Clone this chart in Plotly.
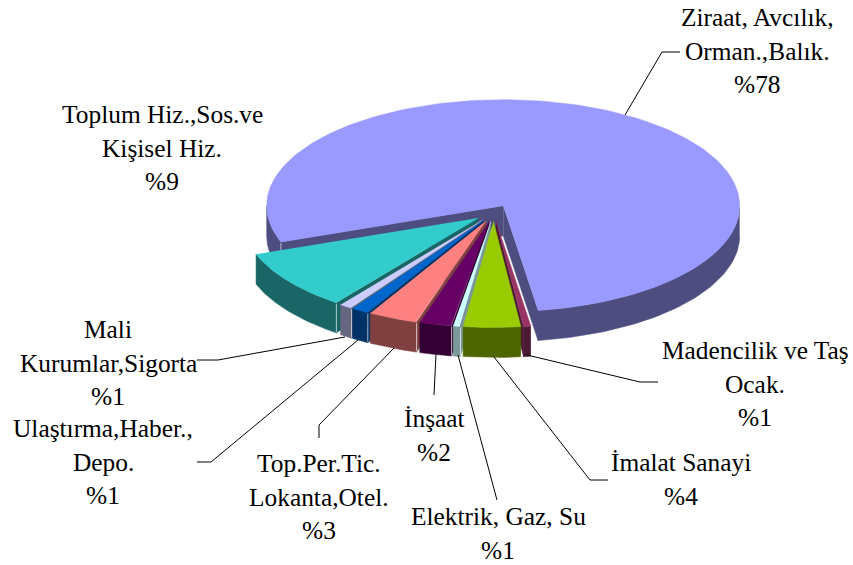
import numpy as np
import plotly.graph_objects as go

# ---- data ----
categories = ["Ziraat, Avcılık,<br>Orman.,Balık.", "Madencilik ve Taş<br>Ocak.", "İmalat Sanayi",
              "Elektrik, Gaz, Su", "İnşaat", "Top.Per.Tic.<br>Lokanta,Otel.",
              "Ulaştırma,Haber.,<br>Depo.", "Mali<br>Kurumlar,Sigorta", "Toplum Hiz.,Sos.ve<br>Kişisel Hiz."]
values = [78.2, 0.5, 3.9, 0.5, 2.2, 3.4, 1.2, 0.9, 9.2]
percent_labels = ["%78", "%1", "%4", "%1", "%2", "%3", "%1", "%1", "%9"]

# ---- styles / layout ----
top_colors = ["#9999FF", "#993366", "#99CC00", "#CCFFFF", "#660066", "#FF8080", "#0066CC", "#CCCCFF", "#33CCCC"]
side_colors = ["#4D4D80", "#4D1A33", "#4D6600", "#7A9999", "#330033", "#804040", "#003366", "#666680", "#1A6666"]
label_pos = [(757, 17), (755, 350), (681, 462), (498, 516), (434, 418), (319, 463), (103, 428), (108, 329), (162, 114)]
leaders = [
    [(625, 115), (662, 52), (680, 52)],
    [(527, 355), (640, 382), (658, 382)],
    [(494, 357), (590, 480), (608, 480)],
    [(458, 355), (497, 500)],
    [(436, 354), (434, 395)],
    [(394, 348), (319, 425), (319, 438)],
    [(358, 340), (211, 462), (197, 462)],
    [(345, 337), (218, 360), (197, 360)],
]
CX, CY, RX, RY, DEPTH, EXPL = 493.5, 213.0, 236.5, 106.0, 30.0, 0.08
START_DEG = -70.0   # ellipse angle, measured from the bottom, where the first slice begins
LINE_H = 33.5
FONT = dict(family="Liberation Serif", size=25.4, color="black")

fig = go.Figure()


def poly(x, y, color):
    fig.add_trace(go.Scatter(x=list(x), y=list(y), mode="lines", fill="toself", fillcolor=color,
                             line=dict(color=color, width=0.5), hoverinfo="skip", showlegend=False))


def ex(cx, t):
    return cx + RX * np.sin(t)


def ey(cy, t):
    return cy + RY * np.cos(t)


# slice angles run clockwise on screen, i.e. decreasing from the bottom of the ellipse
spans = np.radians(np.array(values) / sum(values) * 360.0)
a = np.radians(START_DEG)
slices = []
for i, s in enumerate(spans):
    slices.append((i, a, a - s))
    a -= s

for i, ta, tb in sorted(slices, key=lambda r: np.cos((r[1] + r[2]) / 2)):
    mid = (ta + tb) / 2
    ox = CX + EXPL * RX * np.sin(mid)
    oy = CY + EXPL * RY * np.cos(mid)
    th = np.linspace(ta, tb, 200)
    # radial walls
    if np.sin(ta) < 0:
        poly([ox, ex(ox, ta), ex(ox, ta), ox], [oy, ey(oy, ta), ey(oy, ta) + DEPTH, oy + DEPTH], side_colors[i])
    if np.sin(tb) > 0:
        poly([ox, ex(ox, tb), ex(ox, tb), ox], [oy, ey(oy, tb), ey(oy, tb) + DEPTH, oy + DEPTH], side_colors[i])
    # outer wall (front part only), one polygon per contiguous visible run
    vis = np.cos(th) > 0
    idx = np.where(vis)[0]
    if len(idx):
        runs = np.split(idx, np.where(np.diff(idx) > 1)[0] + 1)
        for r in runs:
            t = th[r]
            poly(np.r_[ex(ox, t), ex(ox, t)[::-1]], np.r_[ey(oy, t), ey(oy, t)[::-1] + DEPTH], side_colors[i])
    # top face
    poly(np.r_[ox, ex(ox, th)], np.r_[oy, ey(oy, th)], top_colors[i])
    # highlight on the near vertical edge
    if np.sin(ta) < 0 and np.cos(ta) > 0:
        fig.add_trace(go.Scatter(x=[ex(ox, ta)] * 2, y=[ey(oy, ta) + 1, ey(oy, ta) + DEPTH - 1], mode="lines",
                                 line=dict(color="rgba(255,255,255,0.6)", width=1),
                                 hoverinfo="skip", showlegend=False))

for pts in leaders:
    fig.add_trace(go.Scatter(x=[p[0] for p in pts], y=[p[1] for p in pts], mode="lines",
                             line=dict(color="black", width=1), hoverinfo="skip", showlegend=False))

for cat, pct, (lx, ly) in zip(categories, percent_labels, label_pos):
    lines = cat.split("<br>") + [pct]
    for k, txt in enumerate(lines):
        fig.add_annotation(x=lx, y=ly + k * LINE_H, text=txt, showarrow=False, font=FONT,
                           xanchor="center", yanchor="middle")

fig.update_layout(width=853, height=565, margin=dict(l=0, r=0, t=0, b=0),
                  paper_bgcolor="white", plot_bgcolor="white", showlegend=False,
                  xaxis=dict(range=[0, 853], visible=False, fixedrange=True),
                  yaxis=dict(range=[565, 0], visible=False, fixedrange=True))
fig.write_html("out.html", config={"displayModeBar": False},
               post_script="document.body.style.margin='0';document.documentElement.style.overflow='hidden';")
